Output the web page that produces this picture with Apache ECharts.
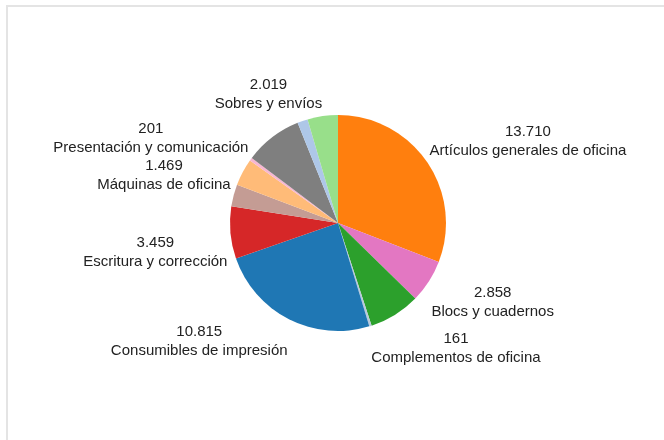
<!DOCTYPE html>
<html>
<head>
<meta charset="utf-8">
<script src="https://cdn.jsdelivr.net/npm/echarts@6/dist/echarts.min.js"></script>
<style>
html,body{margin:0;padding:0;background:#fff;}
#frame{position:absolute;left:6px;top:5px;width:658px;height:435px;border-left:2px solid #e4e4e4;border-top:2px solid #e4e4e4;box-sizing:border-box;}
#chart{position:absolute;left:0;top:0;width:664px;height:440px;}
</style>
</head>
<body>
<div id="frame"></div>
<div id="chart"></div>
<script>
const categories = [
  'Artículos generales de oficina',
  'Blocs y cuadernos',
  'Archivo y clasificación',
  'Complementos de oficina',
  'Consumibles de impresión',
  'Escritura y corrección',
  'Máquinas de oficina',
  'Etiquetas',
  'Presentación y comunicación',
  'Papel',
  'Otros',
  'Sobres y envíos'
];
const values = [13710, 2858, 3400, 161, 10815, 3459, 1469, 1800, 201, 3830, 690, 2019];
const showLabel = [true, true, false, true, true, true, true, false, true, false, false, true];
const colors = ['#ff7f0e', '#e377c2', '#2ca02c', '#b9c9dc', '#1f77b4', '#d62728', '#c49c94', '#ffbb78', '#f7b6d2', '#7f7f7f', '#aec7e8', '#98df8a'];

function fmt(v) {
  return String(v).replace(/\B(?=(\d{3})+(?!\d))/g, '.');
}

const chart = echarts.init(document.getElementById('chart'), null, {renderer: 'canvas'});
chart.setOption({
  backgroundColor: 'transparent',
  animation: false,
  series: [{
    type: 'pie',
    center: [338, 223],
    radius: [0, 108],
    startAngle: 90,
    clockwise: true,
    avoidLabelOverlap: false,
    itemStyle: {borderWidth: 0},
    label: {
      show: true,
      position: 'outside',
      formatter: p => fmt(p.value) + '\n' + p.name,
      fontFamily: 'Liberation Sans, Arial, sans-serif',
      fontSize: 15,
      lineHeight: 19,
      color: '#222'
    },
    labelLine: {show: true, length: 3, length2: 0, lineStyle: {opacity: 0, width: 0}},
    labelLayout: function (params) {
      const r = params.labelRect;
      const pts = params.labelLinePoints;
      if (!pts || pts.length < 3) return {};
      const dx = pts[1][0] - pts[0][0];
      const dy = pts[1][1] - pts[0][1];
      const ax = pts[2][0], ay = pts[2][1];
      const cx = dx >= 0 ? ax + r.width / 2 : ax - r.width / 2;
      const cy = dy > 0 ? ay + r.height / 2 : ay - r.height / 2;
      return {x: cx, y: cy, align: 'center', verticalAlign: 'middle'};
    },
    emphasis: {disabled: true},
    data: categories.map((c, i) => ({
      name: c,
      value: values[i],
      itemStyle: {color: colors[i]},
      label: {show: showLabel[i]},
      labelLine: {show: showLabel[i]}
    }))
  }]
});
</script>
</body>
</html>
